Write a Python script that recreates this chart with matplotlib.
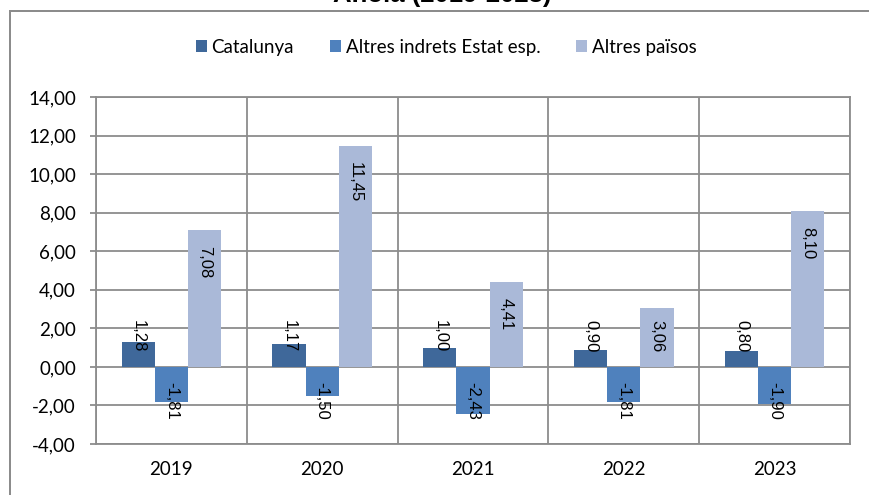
import matplotlib.pyplot as plt
import numpy as np
from matplotlib.lines import Line2D

years = ["2019", "2020", "2021", "2022", "2023"]
catalunya = [1.28, 1.17, 1.00, 0.90, 0.80]
altres_estat = [-1.81, -1.50, -2.43, -1.81, -1.90]
altres_paisos = [7.08, 11.45, 4.41, 3.06, 8.10]
series_names = ["Catalunya", "Altres indrets Estat esp.", "Altres països"]
colors = ["#3f689a", "#4f81bd", "#aab9d8"]
grid_col = "#8c8c8c"

W, H, DPI = 869, 495, 100
fig = plt.figure(figsize=(W / DPI, H / DPI), dpi=DPI)
px = 72.0 / DPI  # one pixel in points

# outer chart frame (cropped at right and bottom)
fig.add_artist(Line2D([10 / W, 10 / W], [0, 1 - 11 / H], color=grid_col, lw=2 * px))
fig.add_artist(Line2D([10 / W, 1], [1 - 11 / H, 1 - 11 / H], color=grid_col, lw=2 * px))

# title, mostly cut off at the top edge
fig.text(442 / W, 1 - 2 / H, "Anoia (2019-2023)", ha="center", va="baseline",
         fontsize=18.5, fontweight="bold", family="Liberation Sans")

ax = fig.add_axes([96 / W, 1 - 444 / H, (850 - 96) / W, (444 - 97) / H])
x = np.arange(len(years))
bw = 0.22
data = [catalunya, altres_estat, altres_paisos]
handles = []
for i, (vals, col, name) in enumerate(zip(data, colors, series_names)):
    b = ax.bar(x + (i - 1) * bw, vals, bw, color=col, label=name, zorder=3)
    handles.append(b)

ax.set_xlim(-0.5, len(years) - 0.5)
ax.set_ylim(-4, 14)
ax.set_yticks(np.arange(-4, 15, 2))
ax.set_yticklabels([f"{v:.2f}".replace(".", ",") for v in np.arange(-4, 15, 2)],
                   family="Lato", fontsize=13.5)
ax.set_xticks(x)
ax.set_xticklabels(years, family="Lato", fontsize=13.5)
ax.tick_params(axis="x", length=0, pad=12)
ax.tick_params(axis="y", length=6 * px, width=1.8 * px, color=grid_col, pad=10)
ax.set_xticks(np.arange(-0.5, len(years), 1), minor=True)
ax.tick_params(axis="x", which="minor", length=0)
ax.grid(axis="y", which="major", color=grid_col, lw=1.8 * px, zorder=1)
ax.grid(axis="x", which="minor", color=grid_col, lw=1.8 * px, zorder=1)
ax.grid(axis="x", which="major", visible=False)
for s in ax.spines.values():
    s.set_color(grid_col)
    s.set_linewidth(1.8 * px)

# data labels, rotated and read top-down
fig.canvas.draw()
renderer = fig.canvas.get_renderer()
to_px = ax.transData.transform
for i, vals in enumerate(data):
    for xi, v in zip(x + (i - 1) * bw, vals):
        txt = f"{v:.2f}".replace(".", ",")
        t = ax.annotate(txt, (xi, 0), xytext=(0, 0), textcoords="offset points",
                        rotation=270, ha="center", va="bottom", fontsize=12,
                        family="Liberation Sans", zorder=5)
        tlen = t.get_window_extent(renderer).height
        bar_px = abs(to_px((0, v))[1] - to_px((0, 0))[1])
        if v >= 0:
            if bar_px - 16 - tlen >= 15:
                t.xy = (xi, v)
                t.set_position((0, -16 * px))
                t.set_va("top")
            else:
                t.set_position((0, 15 * px))
        else:
            t.set_position((0, -15 * px))
            t.set_va("top")

fig.legend(handles=handles, labels=series_names, loc="center", bbox_to_anchor=(446 / W, 1 - 47 / H),
           ncol=3, frameon=False, prop={"family": "Lato", "size": 13.5},
           handlelength=0.6, handleheight=0.6, handletextpad=0.25, columnspacing=1.9)

fig.savefig("out.png", dpi=DPI)
